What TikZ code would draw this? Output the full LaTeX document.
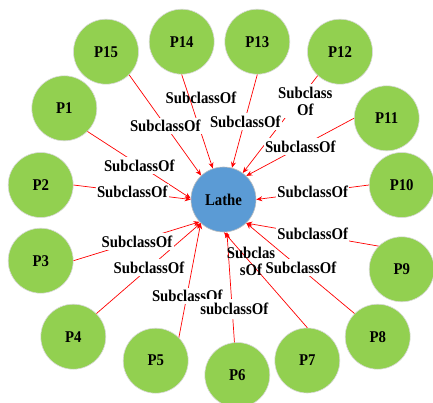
\documentclass[tikz,border=0pt]{standalone}
\usepackage{fontspec}
\setmainfont[FakeStretch=0.9]{Liberation Serif}
\usetikzlibrary{arrows.meta}

\definecolor{partgreen}{RGB}{146,208,80}
\definecolor{latheblue}{RGB}{91,155,213}

\tikzset{
    part/.style={circle, fill=partgreen, draw=black!15, line width=0.6pt,
        minimum size=65pt, inner sep=0pt, font=\fontsize{16.4}{17}\selectfont\bfseries},
    core/.style={part, fill=latheblue, draw=black!25},
    rel/.style={red, line width=0.7pt, -{Stealth[length=6pt,width=5pt]}},
    lbl/.style={fill=white, inner xsep=1.5pt, inner ysep=2.5pt, align=center,
        font=\fontsize{16.4}{17}\selectfont\bfseries},
    lblclear/.style={lbl, fill=none}
}

\begin{document}
\begin{tikzpicture}[x=1pt, y=-1pt]
    \useasboundingbox (0,0) rectangle (433,403);

    % Lathe
    \node[core] (lathe) at (223.5,199.5) {Lathe};

    % Parts
    \node[part] (p1) at (64.3,108.3) {P1};
    \node[part] (p2) at (40.7,185) {P2};
    \node[part] (p3) at (40.7,260.7) {P3};
    \node[part] (p4) at (73.3,336.7) {P4};
    \node[part] (p5) at (155.7,360.7) {P5};
    \node[part] (p6) at (237.3,375) {P6};
    \node[part] (p7) at (307.3,360.5) {P7};
    \node[part] (p8) at (377.7,336.7) {P8};
    \node[part] (p9) at (401.7,269.3) {P9};
    \node[part] (p10) at (401.7,185) {P10};
    \node[part] (p11) at (386.7,118.3) {P11};
    \node[part] (p12) at (340,51.7) {P12};
    \node[part] (p13) at (257.3,41.7) {P13};
    \node[part] (p14) at (181.7,41.7) {P14};
    \node[part] (p15) at (106,51.7) {P15};

    % Links to the lathe
    \draw[rel] (p1.-45) -- (lathe.178);
    \draw[rel] (p2.0) -- (lathe.180);
    \draw[rel] (p3.0) -- (lathe.-137);
    \draw[rel] (p4.45) -- (lathe.-134);
    \draw[rel] (p5.45) -- (lathe.-134);
    \draw[rel] (p6.95) -- (lathe.-84);
    \draw[rel] (p7.90) -- (lathe.-89);
    \draw[rel] (p8.135) -- (lathe.-46);
    \draw[rel] (p9.135) -- (lathe.-46);
    \draw[rel] (p10.180) -- (lathe.0);
    \draw[rel] (p11.180) -- (lathe.46);
    \draw[rel] (p12.-133) -- (lathe.54);
    \draw[rel] (p13.-90) -- (lathe.75);
    \draw[rel] (p14.-90) -- (lathe.109);
    \draw[rel] (p15.-45) -- (lathe.133);

    % Link labels
    \node[lbl] (l15) at (165.3,126) {SubclassOf};
    \node[lblclear] (l14) at (201,97.7) {SubclassOf};
    \node[lbl] (l12) at (305.3,101) {Subclass\\Of};
    \node[lbl] (l13) at (245.3,121.7) {SubclassOf};
    \node[lbl] (l11) at (300.3,146.7) {SubclassOf};
    \node[lbl] (l1) at (139.3,165.7) {SubclassOf};
    \node[lbl] (l2) at (132.3,192.3) {SubclassOf};
    \node[lbl] (l10) at (312.7,192.3) {SubclassOf};
    \node[lbl] (l3) at (137,241.7) {SubclassOf};
    \node[lbl] (l9) at (312.7,234.3) {SubclassOf};
    \node[lbl] (l4) at (149,267.7) {SubclassOf};
    \node[lbl] (l8) at (301,267.7) {SubclassOf};
    \node[lblclear] (l7) at (251,261.5) {Subclas\\sOf};
    \node[lbl] (l5) at (187.3,296) {SubclassOf};
    \node[lbl, inner ysep=4.5pt] (l6) at (234.3,309) {subclassOf};
\end{tikzpicture}
\end{document}
